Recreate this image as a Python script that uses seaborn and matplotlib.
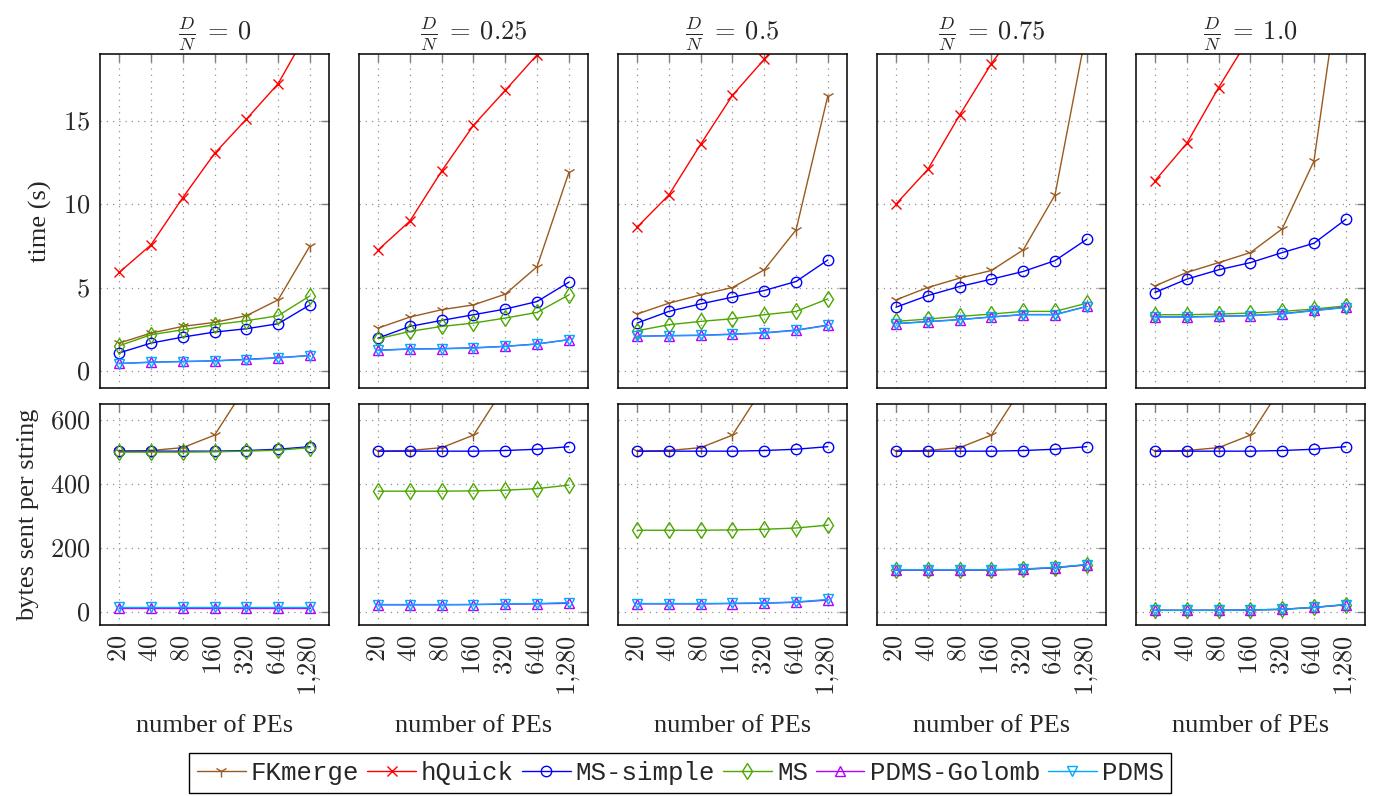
import numpy as np
import pandas as pd
import matplotlib
matplotlib.use("Agg")
import matplotlib.pyplot as plt
import seaborn as sns
from matplotlib.ticker import FixedLocator, FixedFormatter, NullLocator

sns.set_theme(style="white")
plt.rcParams['font.family'] = ['Liberation Serif', 'DejaVu Serif']
plt.rcParams['mathtext.fontset'] = 'cm'

# x axis: number of PEs
pes = [20, 40, 80, 160, 320, 640, 1280]
pe_labels = ['$20$', '$40$', '$80$', '$160$', '$320$', '$640$', '$1{,}280$']
dn_titles = [r'$\frac{D}{N}\;=\:0$', r'$\frac{D}{N}\;=\:0.25$', r'$\frac{D}{N}\;=\:0.5$',
             r'$\frac{D}{N}\;=\:0.75$', r'$\frac{D}{N}\;=\:1.0$']

algos = ['FKmerge', 'hQuick', 'MS-simple', 'MS', 'PDMS-Golomb', 'PDMS']
colors = {'FKmerge': '#9a5a1e', 'hQuick': '#ff0000', 'MS-simple': '#0000ff',
          'MS': '#4aa800', 'PDMS-Golomb': '#b300ff', 'PDMS': '#00a8ff'}
markers = {'FKmerge': '1', 'hQuick': 'x', 'MS-simple': 'o', 'MS': 'd',
           'PDMS-Golomb': '^', 'PDMS': 'v'}
msizes = {'FKmerge': 9, 'hQuick': 7, 'MS-simple': 7.5, 'MS': 8,
          'PDMS-Golomb': 7, 'PDMS': 7}

# running time (s), one row per D/N panel
time_fkmerge = [[1.69, 2.29, 2.69, 2.93, 3.33, 4.28, 7.51],
                [2.59, 3.25, 3.69, 3.98, 4.62, 6.27, 11.91],
                [3.43, 4.08, 4.58, 5.02, 6.08, 8.47, 16.5],
                [4.28, 5.02, 5.58, 6.04, 7.27, 10.56, 20.5],
                [5.12, 5.92, 6.51, 7.11, 8.53, 12.59, 25.9]]
time_hquick = [[5.92, 7.57, 10.4, 13.05, 15.1, 17.23, 20.6],
               [7.27, 9.0, 12.0, 14.74, 16.83, 18.96, 21.0],
               [8.63, 10.56, 13.6, 16.53, 18.69, 21.0, 23.0],
               [10.02, 12.09, 15.34, 18.43, 21.0, 24.0, 27.0],
               [11.41, 13.65, 16.99, 20.1, 23.0, 26.0, 29.0]]
time_mssimple = [[1.10, 1.69, 2.05, 2.35, 2.55, 2.85, 3.98],
                 [1.99, 2.69, 3.05, 3.39, 3.73, 4.18, 5.34],
                 [2.89, 3.59, 4.04, 4.44, 4.84, 5.38, 6.67],
                 [3.84, 4.54, 5.08, 5.52, 5.98, 6.63, 7.91],
                 [4.72, 5.52, 6.08, 6.51, 7.11, 7.67, 9.10]]
time_ms = [[1.53, 2.19, 2.49, 2.79, 3.03, 3.33, 4.52],
           [1.95, 2.39, 2.69, 2.89, 3.19, 3.53, 4.58],
           [2.43, 2.79, 2.99, 3.15, 3.39, 3.59, 4.34],
           [2.99, 3.13, 3.29, 3.43, 3.59, 3.59, 4.08],
           [3.39, 3.39, 3.43, 3.49, 3.59, 3.73, 3.92]]
time_golomb = [[0.47, 0.55, 0.59, 0.63, 0.72, 0.82, 0.95],
               [1.27, 1.34, 1.36, 1.41, 1.50, 1.64, 1.90],
               [2.10, 2.14, 2.16, 2.23, 2.31, 2.47, 2.77],
               [2.86, 2.98, 3.10, 3.26, 3.40, 3.40, 3.89],
               [3.26, 3.26, 3.30, 3.34, 3.45, 3.65, 3.84]]
time_pdms = [[0.46, 0.54, 0.58, 0.62, 0.70, 0.80, 0.94],
             [1.25, 1.33, 1.35, 1.39, 1.49, 1.63, 1.89],
             [2.09, 2.13, 2.15, 2.21, 2.29, 2.45, 2.75],
             [2.85, 2.97, 3.09, 3.25, 3.39, 3.39, 3.88],
             [3.25, 3.25, 3.29, 3.33, 3.43, 3.63, 3.82]]

# bytes sent per string
bytes_fkmerge = [[503, 505, 514, 553, 707, 1000, 1500]] * 5
bytes_mssimple = [[503, 503, 503, 503, 505, 509, 517]] * 5
bytes_ms = [[500, 500, 500, 501, 503, 506, 514],
            [378, 378, 378, 379, 381, 386, 397],
            [256, 256, 256, 257, 259, 263, 272],
            [131, 131, 131, 132, 134, 139, 148],
            [6, 6, 6, 7, 9, 15, 24]]
bytes_golomb = [[13, 13, 13, 13, 13, 13, 13],
                [23, 23, 23, 24, 25, 26, 28],
                [26, 26, 26, 27, 28, 31, 38],
                [131, 131, 131, 132, 134, 139, 148],
                [6, 6, 6, 7, 9, 15, 23]]
bytes_pdms = [[15, 15, 15, 15, 15, 15, 15],
              [24, 24, 24, 24, 26, 27, 30],
              [27, 27, 27, 28, 29, 32, 40],
              [132, 132, 132, 133, 135, 140, 149],
              [6, 6, 6, 7, 9, 15, 24]]

time_data = {'FKmerge': time_fkmerge, 'hQuick': time_hquick, 'MS-simple': time_mssimple,
             'MS': time_ms, 'PDMS-Golomb': time_golomb, 'PDMS': time_pdms}
bytes_data = {'FKmerge': bytes_fkmerge, 'MS-simple': bytes_mssimple, 'MS': bytes_ms,
              'PDMS-Golomb': bytes_golomb, 'PDMS': bytes_pdms}

fig = plt.figure(figsize=(13.8, 7.96), dpi=100)
gs = fig.add_gridspec(2, 5, height_ratios=[334, 221], left=0.0725, right=0.989,
                      top=0.932, bottom=0.2148, wspace=0.131, hspace=0.058)

tick_color = '#808080'


def style_axis(ax, yticks, ylim, show_y, show_x):
    ax.set_xscale('log', base=2)
    ax.set_xlim(20 / 2 ** 0.6, 1280 * 2 ** 0.6)
    ax.set_ylim(*ylim)
    ax.xaxis.set_major_locator(FixedLocator(pes))
    ax.xaxis.set_minor_locator(NullLocator())
    ax.yaxis.set_major_locator(FixedLocator(yticks))
    if show_x:
        ax.xaxis.set_major_formatter(FixedFormatter(pe_labels))
    else:
        ax.set_xticklabels([])
    if show_y:
        ax.yaxis.set_major_formatter(FixedFormatter(['$%d$' % v for v in yticks]))
    else:
        ax.set_yticklabels([])
    ax.tick_params(axis='both', which='major', direction='in', length=6, width=1,
                   color=tick_color, top=True, right=True, labelsize=19, pad=7)
    ax.tick_params(axis='x', labelrotation=90)
    ax.grid(True, linestyle=(0, (1, 4)), color='#909090', linewidth=0.9)
    for sp in ax.spines.values():
        sp.set_color('black')
        sp.set_linewidth(1.1)
    ax.set_xlabel('')
    ax.set_ylabel('')


def draw(ax, data, panel):
    for name in algos:
        if name not in data:
            continue
        df = pd.DataFrame({'pes': pes, 'val': data[name][panel]})
        sns.lineplot(data=df, x='pes', y='val', ax=ax, color=colors[name],
                     marker=markers[name], markersize=msizes[name],
                     markerfacecolor='none', markeredgecolor=colors[name],
                     markeredgewidth=1.0, linewidth=1.0, label=name, legend=False)


for i in range(5):
    ax_t = fig.add_subplot(gs[0, i])
    ax_b = fig.add_subplot(gs[1, i])
    draw(ax_t, time_data, i)
    draw(ax_b, bytes_data, i)
    style_axis(ax_t, [0, 5, 10, 15], (-1, 19), i == 0, False)
    style_axis(ax_b, [0, 200, 400, 600], (-40, 650), i == 0, True)
    ax_t.set_title(dn_titles[i], fontsize=19, pad=10)
    ax_b.set_xlabel('number of PEs', fontsize=19, labelpad=14)
    if i == 0:
        ax_t.set_ylabel('time (s)', fontsize=19, labelpad=8)
        ax_b.set_ylabel('bytes sent per string', fontsize=19, labelpad=8)
        handles, labels = ax_t.get_legend_handles_labels()

leg = fig.legend(handles, labels, loc='center', bbox_to_anchor=(0.493, 0.029), ncol=6,
                 frameon=True, fancybox=False, edgecolor='black', framealpha=1,
                 prop={'family': 'Liberation Mono', 'size': 18.5},
                 handlelength=1.9, handletextpad=0.2, columnspacing=0.3,
                 borderpad=0.3, borderaxespad=0)
leg.get_frame().set_linewidth(1.0)

fig.savefig('out.png', dpi=100)
